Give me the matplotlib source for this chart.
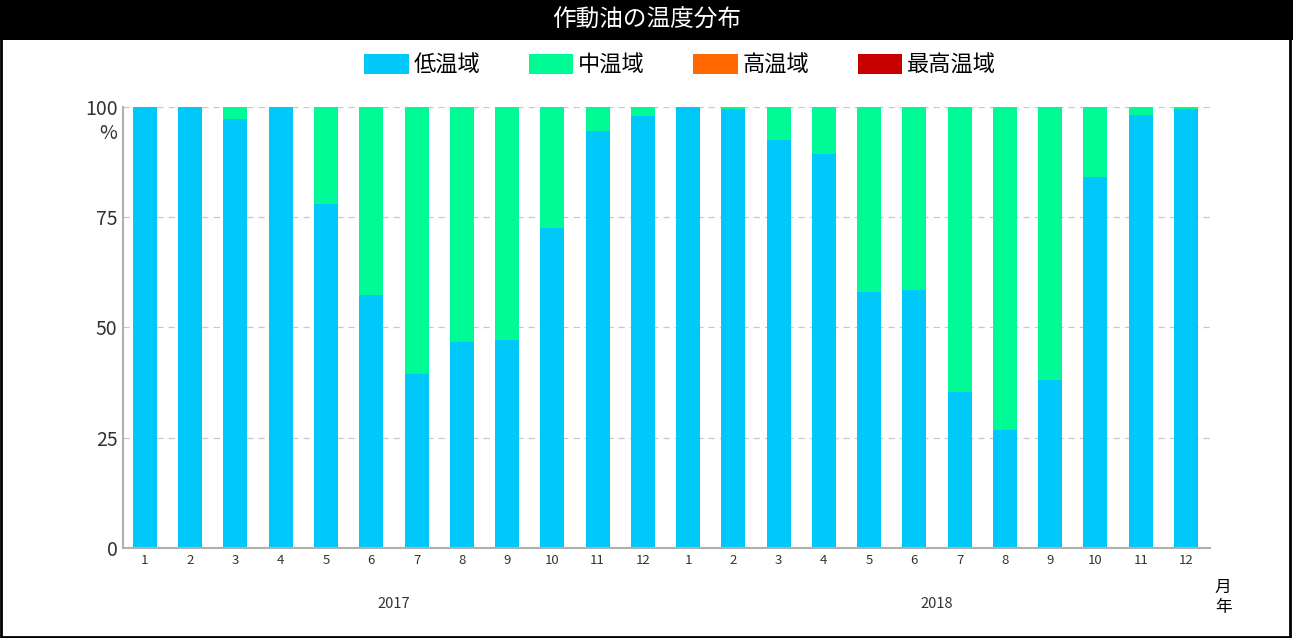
import matplotlib.pyplot as plt
import numpy as np
from matplotlib.patches import Rectangle

plt.rcParams['font.family'] = ['Noto Sans CJK JP', 'DejaVu Sans']

months = [1, 2, 3, 4, 5, 6, 7, 8, 9, 10, 11, 12] * 2
years = ["2017", "2018"]
low = [100, 100, 97.3, 100, 78.0, 57.4, 39.4, 46.6, 47.2, 72.6, 94.6, 98.0,
       100, 99.5, 92.5, 89.3, 58.1, 58.5, 35.4, 26.8, 38.1, 84.1, 98.2, 99.5]
high = [0] * 24
highest = [0] * 24
mid = [100 - a - b - c for a, b, c in zip(low, high, highest)]

labels = ["低温域", "中温域", "高温域", "最高温域"]
colors = ["#00c8fa", "#00fa96", "#ff6a00", "#c80000"]

fig = plt.figure(figsize=(12.93, 6.38), dpi=100)
ax = fig.add_axes([0.0951, 0.1411, 0.8407, 0.6912])

x = np.arange(len(low))
bottom = np.zeros(len(low))
handles = []
for vals, lab, col in zip([low, mid, high, highest], labels, colors):
    h = ax.bar(x, vals, 0.53, bottom=bottom, color=col, label=lab, zorder=2)
    handles.append(h)
    bottom += np.array(vals)

ax.set_xlim(-0.486, 23.53)
ax.set_ylim(0, 100)
ax.set_yticks([0, 25, 50, 75, 100])
ax.set_yticklabels(["0", "25", "50", "75", "100"], fontsize=14, color="#333333")
ax.set_xticks(x)
ax.set_xticklabels([str(m) for m in months], fontsize=9.5, color="#333333")
ax.tick_params(axis="both", length=0)
ax.tick_params(axis="x", pad=4)
ax.tick_params(axis="y", pad=4)
ax.yaxis.grid(True, linestyle=(0, (5, 4)), color="#c8c8c8", linewidth=0.9, zorder=0)
for s in ["top", "right"]:
    ax.spines[s].set_visible(False)
for s in ["left", "bottom"]:
    ax.spines[s].set_color("#b0b0b0")
    ax.spines[s].set_linewidth(1.5)

ax.text(-0.005, 0.94, "%", transform=ax.transAxes, ha="right", va="center",
        fontsize=14, color="#333333")
for i, y in enumerate(years):
    ax.text(5.5 + 12 * i, -0.126, y, transform=ax.get_xaxis_transform(),
            ha="center", va="center", fontsize=10.5, color="#333333")
ax.text(1.012, -0.09, "月", transform=ax.transAxes, ha="center", va="center", fontsize=12)
ax.text(1.012, -0.135, "年", transform=ax.transAxes, ha="center", va="center", fontsize=12)

fig.legend(handles, labels, loc="center", bbox_to_anchor=(0.526, 0.898), ncol=4,
           frameon=False, fontsize=16, handlelength=2.0, handleheight=1.0,
           columnspacing=2.2, handletextpad=0.2)

# title bar and border
fig.patches.append(Rectangle((0, 1 - 40 / 638), 1, 40 / 638, transform=fig.transFigure,
                             facecolor="black", edgecolor="none", zorder=0))
fig.patches.append(Rectangle((0.001, 0.002), 0.997, 0.996, transform=fig.transFigure,
                             facecolor="none", edgecolor="black", linewidth=2))
fig.text(0.5, 1 - 20 / 638, "作動油の温度分布", ha="center", va="center",
         color="white", fontsize=17)

fig.savefig("out.png", dpi=100)
